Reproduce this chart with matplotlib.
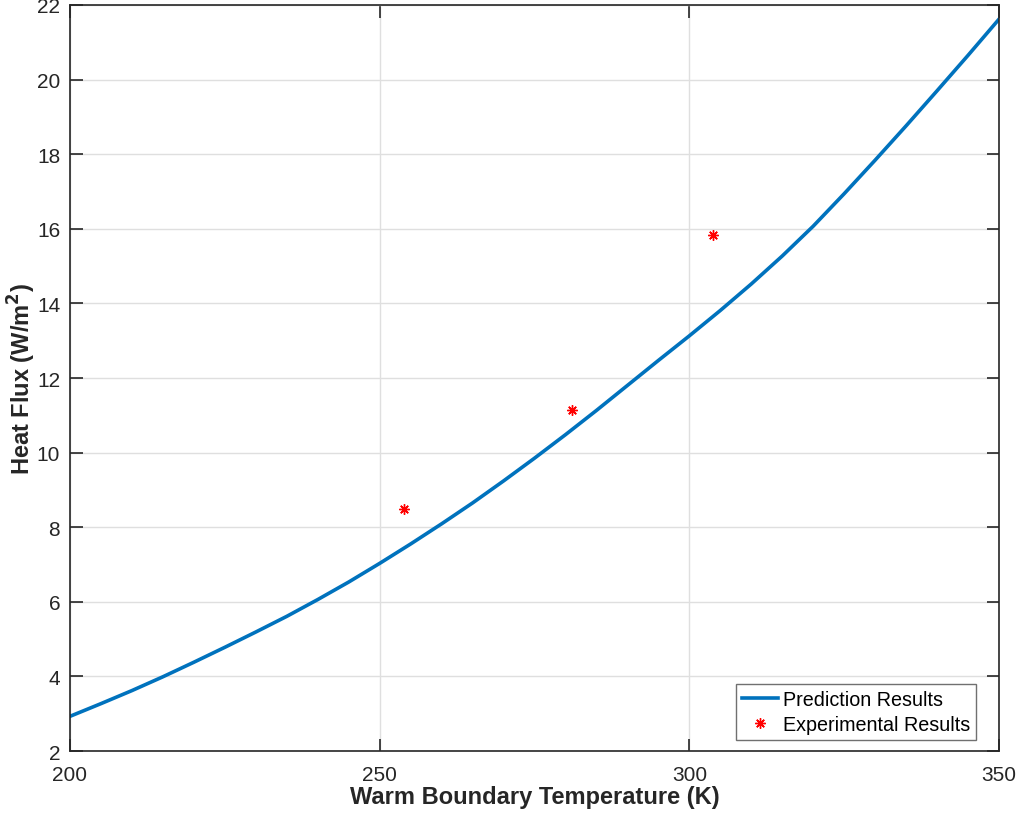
import matplotlib
matplotlib.use("Agg")
import matplotlib.pyplot as plt

plt.rcParams['font.family'] = ['Liberation Sans', 'DejaVu Sans']

# Predicted heat flux vs warm boundary temperature (every 5 K)
temp_pred = [200, 205, 210, 215, 220, 225, 230, 235, 240, 245, 250,
             255, 260, 265, 270, 275, 280, 285, 290, 295, 300,
             305, 310, 315, 320, 325, 330, 335, 340, 345, 350]
flux_pred = [2.93, 3.27, 3.62, 3.99, 4.38, 4.78, 5.19, 5.61, 6.06, 6.53, 7.03,
             7.55, 8.09, 8.65, 9.24, 9.85, 10.48, 11.13, 11.80, 12.47, 13.13,
             13.81, 14.52, 15.27, 16.07, 16.94, 17.84, 18.76, 19.70, 20.65, 21.62]

# Measured points
temp_exp = [254.0, 281.0, 303.8]
flux_exp = [8.49, 11.13, 15.84]

xticks = [200, 250, 300, 350]
yticks = list(range(2, 23, 2))

fig = plt.figure(figsize=(10.17, 8.2), dpi=100)
ax = fig.add_axes([0.0688, 0.0829, 0.9135, 0.9098])

ax.plot(temp_pred, flux_pred, color='#0072BD', linewidth=2.6,
        label='Prediction Results')
ax.plot(temp_exp, flux_exp, linestyle='none', marker=(8, 2, 0),
        markersize=7.5, markeredgewidth=1.0, color='red',
        label='Experimental Results')

ax.set_xlim(200, 350)
ax.set_ylim(2, 22)
ax.set_xticks(xticks)
ax.set_yticks(yticks)
ax.grid(True, color='#dfdfdf', linewidth=1.0)
ax.set_axisbelow(True)

ax.tick_params(direction='in', length=9, width=1.2, top=True, right=True,
               labelsize=15, colors='#262626')
ax.tick_params(axis='x', pad=10)
ax.tick_params(axis='y', pad=7)
for side in ax.spines.values():
    side.set_color('#262626')
    side.set_linewidth(1.2)

ax.set_xlabel('Warm Boundary Temperature (K)', fontsize=17, fontweight='bold',
              color='#262626', labelpad=1)
ax.set_ylabel('Heat Flux (W/m$^{\\mathbf{2}}$)', fontsize=17, fontweight='bold',
              color='#262626', labelpad=-1)

leg = ax.legend(loc='lower right', bbox_to_anchor=(0.9752, 0.0147),
                fontsize=14.2, fancybox=False, framealpha=1,
                edgecolor='#707070', borderaxespad=0, handlelength=1.8,
                handletextpad=0.25, borderpad=0.3, labelspacing=0.3)
leg.get_frame().set_linewidth(1.0)

fig.savefig('out.png', dpi=100)
